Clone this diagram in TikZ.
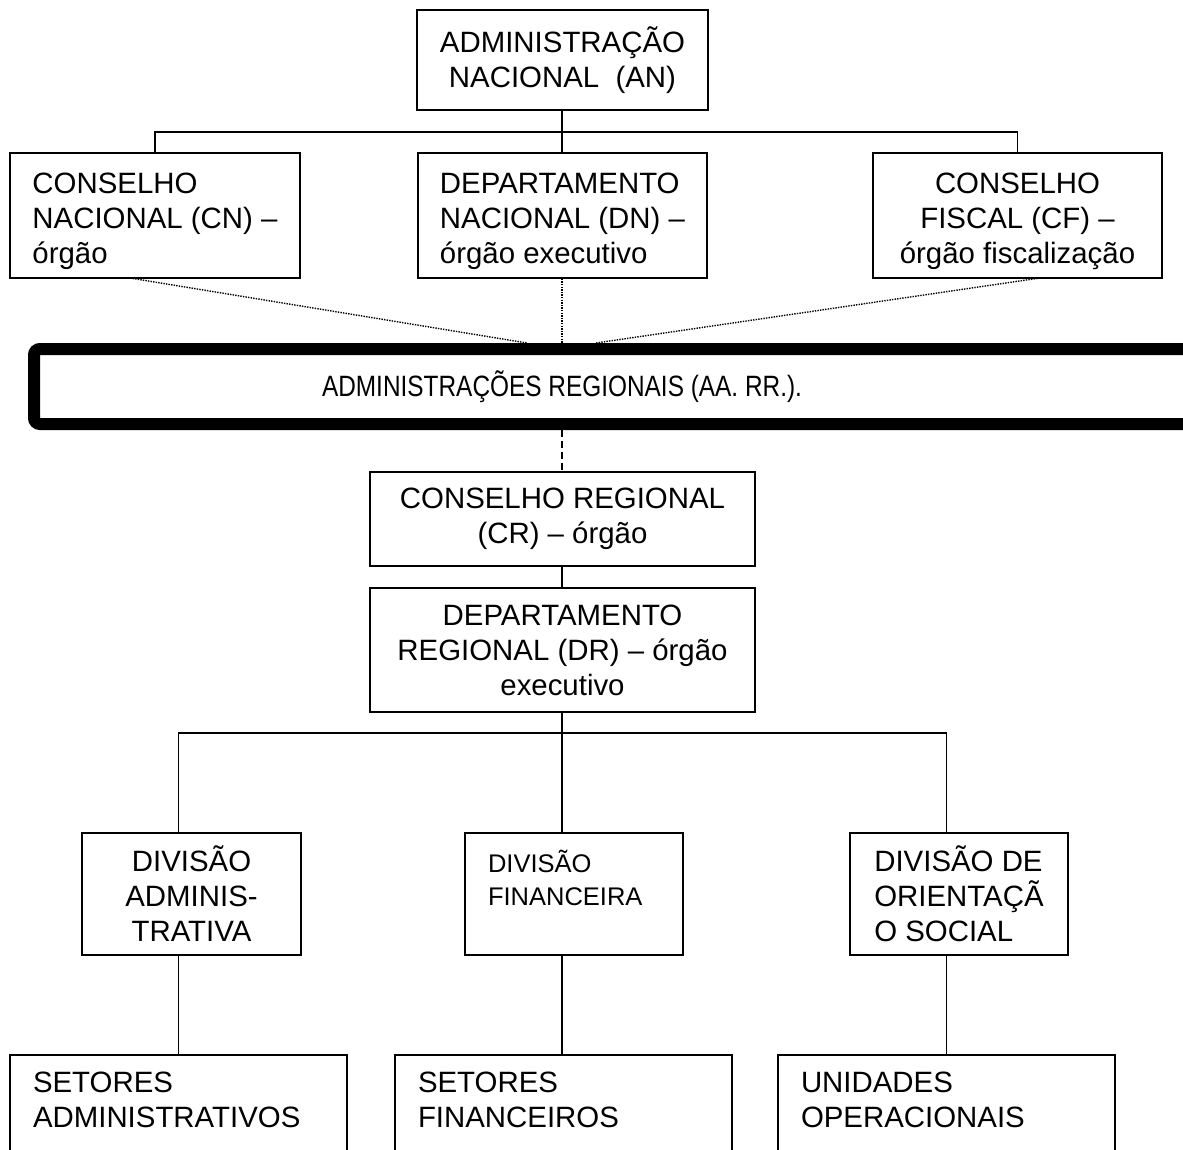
\documentclass[tikz,border=0pt]{standalone}
\usepackage{fontspec}
\usepackage{graphicx}
\setmainfont{Liberation Sans}
\newcommand{\topstrut}{\rule{0pt}{33pt}}
\newcommand{\lowstrut}{\rule[-30pt]{0pt}{0pt}}
\begin{document}
\begin{tikzpicture}[x=1pt,y=-1pt,
  box/.style={draw, line width=1.6pt, inner sep=0pt, font=\fontsize{29.4pt}{35pt}\selectfont},
  thickbox/.style={draw, line width=12pt, rounded corners=6pt, inner sep=0pt, font=\fontsize{29.4pt}{35pt}\selectfont},
  conn/.style={line width=1.4pt},
  dotconn/.style={line width=1.4pt, dash pattern=on 1.4pt off 1.2pt},
  dashconn/.style={line width=1.4pt, dash pattern=on 7pt off 4pt}
]
\useasboundingbox[fill=white] (0,0) rectangle (1183,1150);

% top level
\node[box, minimum width=291, minimum height=100, align=center] (AN) at (562.5,60) {ADMINISTRAÇÃO\\NACIONAL\ \ (AN)};
\node[box, minimum width=290, minimum height=125, align=left] (CN) at (155,215.5) {\topstrut CONSELHO\\NACIONAL (CN) –\\órgão};
\node[box, minimum width=289, minimum height=125, align=left] (DN) at (562.5,215.5) {\topstrut DEPARTAMENTO\\NACIONAL (DN) –\\órgão executivo};
\node[box, minimum width=289, minimum height=125, align=center] (CF) at (1017.5,215.5) {\topstrut CONSELHO\\FISCAL (CF) –\\órgão fiscalização};

\coordinate (bus1) at (562,132);
\draw[conn] (AN.south -| bus1) -- (bus1);
\draw[conn] (CN.north) |- (bus1) -| (CF.north);
\draw[conn] (DN.north -| bus1) -- (bus1);

% regional band
\node[thickbox, minimum width=1172, minimum height=75] (AR) at (620,386.5) {\hspace*{-116pt}\scalebox{0.83}[1]{ADMINISTRAÇÕES REGIONAIS (AA. RR.).}};

\coordinate (cnd) at (130,278);
\coordinate (ard1) at (527,343);
\coordinate (ard2) at (562,343);
\coordinate (cfd) at (1040,278);
\coordinate (ard3) at (596,343);
\draw[dotconn] (cnd) -- (ard1);
\draw[dotconn] (DN.south -| ard2) -- (ard2);
\draw[dotconn] (cfd) -- (ard3);

% regional chain
\node[box, minimum width=385, minimum height=94, align=center] (CR) at (562.5,519) {CONSELHO REGIONAL\\(CR) – órgão};
\node[box, minimum width=385, minimum height=124, align=center] (DR) at (562.5,650) {DEPARTAMENTO\\REGIONAL (DR) – órgão\\executivo};
\draw[dashconn] (AR.south -| ard2) -- (CR.north -| ard2);
\draw[conn] (CR.south -| ard2) -- (DR.north -| ard2);

% divisions
\node[box, minimum width=219, minimum height=122, align=center] (DA) at (191.5,894) {DIVISÃO\\ADMINIS-\\TRATIVA};
\node[box, minimum width=218, minimum height=122, align=left, text width=172, inner xsep=23pt, font=\fontsize{25.5pt}{33pt}\selectfont] (DF) at (574,894) {DIVISÃO\\FINANCEIRA\\\mbox{}};
\node[box, minimum width=218, minimum height=122, align=left] (DO) at (959,894) {DIVISÃO DE\\ORIENTAÇÃ\\O SOCIAL};

% bottom units
\node[box, minimum width=337, minimum height=120, text width=291, inner xsep=23pt, align=left] (SA) at (178.5,1115) {SETORES\\ADMINISTRATIVOS\lowstrut};
\node[box, minimum width=337, minimum height=120, text width=291, inner xsep=23pt, align=left] (SF) at (563.5,1115) {SETORES\\FINANCEIROS\lowstrut};
\node[box, minimum width=337, minimum height=120, text width=291, inner xsep=23pt, align=left] (UO) at (946.5,1115) {UNIDADES\\OPERACIONAIS\lowstrut};

\coordinate (bus2) at (562,733);
\draw[conn] (DR.south -| bus2) -- (bus2);
\draw[conn] (DA.north -| SA.north) |- (bus2) -| (DO.north -| UO.north);
\draw[conn] (DF.north -| bus2) -- (bus2);
\draw[conn] (DA.south -| SA.north) -- (SA.north);
\draw[conn] (DF.south -| bus2) -- (SF.north -| bus2);
\draw[conn] (DO.south -| UO.north) -- (UO.north);
\end{tikzpicture}
\end{document}
